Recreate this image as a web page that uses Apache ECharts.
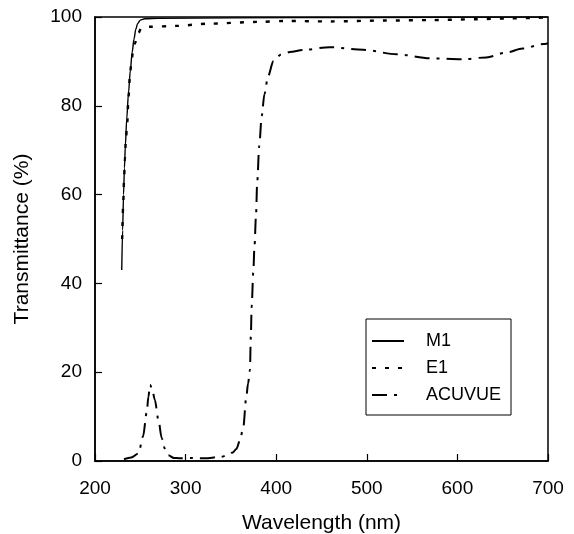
<!DOCTYPE html>
<html>
<head>
<meta charset="utf-8">
<script src="https://cdn.jsdelivr.net/npm/echarts@6/dist/echarts.min.js"></script>
<style>
  html, body { margin: 0; padding: 0; background: #fff; }
  #chart { width: 574px; height: 534px; }
</style>
</head>
<body>
<div id="chart"></div>
<script>
// transmittance spectra
const seriesNames = ['M1', 'E1', 'ACUVUE'];

const m1Wavelength = [229.5, 230.5, 231.5, 232.5, 233.5, 235, 237, 239, 241, 243, 245, 247, 250, 255, 270, 350, 500, 700];
const m1Transmittance = [43, 52, 60, 66, 71, 77, 83, 88, 92, 95, 97.2, 98.5, 99.3, 99.6, 99.7, 99.8, 99.9, 100];

const e1Wavelength = [230, 231, 232, 233, 234, 235.5, 237, 238.5, 240, 242, 244, 246, 248, 251, 260, 290, 325, 380, 410, 460, 520, 570, 620, 660, 700];
const e1Transmittance = [50, 57, 63, 68, 72, 76, 82, 86.5, 89.5, 92.3, 94, 95.2, 96.4, 97.5, 97.8, 98, 98.5, 98.9, 99.1, 99, 99.2, 99.3, 99.5, 99.7, 99.9];

const acuWavelength = [232, 240, 248, 253, 257, 259, 260.7, 263, 266, 270, 273.6, 277, 281, 287, 294, 308, 321, 338, 347, 352, 356, 360, 363.7, 367, 369, 371, 372, 372.9, 374.7, 376, 377.7, 379, 381.3, 384, 387, 391, 397, 405, 415, 430, 459, 496, 533, 570, 606, 632, 654, 672, 695, 700];
const acuTransmittance = [0.4, 0.8, 1.7, 5.5, 10.8, 14.5, 17.2, 16.3, 13.8, 9.3, 5.2, 2.8, 1.3, 0.7, 0.6, 0.7, 0.6, 0.9, 1.3, 1.9, 2.7, 4.6, 7.7, 14.5, 17.5, 20.5, 28, 34.8, 42.4, 48.3, 55.2, 62.7, 71, 77.7, 82.6, 86.7, 90.1, 91.5, 92.1, 92.6, 93.2, 92.6, 91.6, 90.7, 90.5, 90.9, 92, 92.9, 93.9, 94.1];

function zip(xs, ys) {
  return xs.map(function (x, i) { return [x, ys[i]]; });
}

const font = 'Liberation Sans, Arial, sans-serif';
const chart = echarts.init(document.getElementById('chart'), null, { renderer: 'canvas' });

const option = {
  backgroundColor: '#FFFFFF',
  animation: false,
  color: ['#000', '#000', '#000'],
  grid: {
    left: 95, right: 26, top: 17, bottom: 73,
    outerBoundsMode: 'none',
    containLabel: false,
    show: true, borderColor: '#000', borderWidth: 1.5, backgroundColor: 'transparent'
  },
  legend: {
    orient: 'vertical',
    left: 366, top: 319,
    padding: [13, 10, 11, 5],
    itemGap: 9,
    itemWidth: 32,
    itemHeight: 16,
    borderColor: '#000',
    borderWidth: 1,
    borderRadius: 0,
    backgroundColor: '#fff',
    itemStyle: { opacity: 0 },
    textStyle: { fontFamily: font, fontSize: 18, color: '#000', padding: [0, 0, 0, 17] },
    data: seriesNames
  },
  xAxis: {
    type: 'value',
    min: 200, max: 700, interval: 100,
    name: 'Wavelength (nm)',
    nameLocation: 'middle',
    nameGap: 52,
    nameTextStyle: { fontFamily: font, fontSize: 21, color: '#000' },
    axisLine: { lineStyle: { color: '#000', width: 1.5 } },
    axisTick: { inside: true, length: 7, lineStyle: { color: '#000', width: 1.2 } },
    axisLabel: { fontFamily: font, fontSize: 19, color: '#000', margin: 18 },
    splitLine: { show: false }
  },
  yAxis: {
    type: 'value',
    min: 0, max: 100, interval: 20,
    name: 'Transmittance (%)',
    nameLocation: 'middle',
    nameGap: 62,
    nameRotate: 90,
    nameTextStyle: { fontFamily: font, fontSize: 21, color: '#000' },
    axisLine: { show: true, lineStyle: { color: '#000', width: 1.5 } },
    axisTick: { show: true, inside: true, length: 7, lineStyle: { color: '#000', width: 1.2 } },
    axisLabel: { fontFamily: font, fontSize: 19, color: '#000', margin: 13 },
    splitLine: { show: false }
  },
  series: [
    {
      name: 'M1',
      type: 'line',
      data: zip(m1Wavelength, m1Transmittance),
      symbol: 'none',
      smooth: 0.3,
      smoothMonotone: 'x',
      lineStyle: { color: '#000', width: 1.4, type: 'solid' }
    },
    {
      name: 'E1',
      type: 'line',
      data: zip(e1Wavelength, e1Transmittance),
      symbol: 'none',
      smooth: 0.3,
      smoothMonotone: 'x',
      lineStyle: { color: '#000', width: 2.4, type: [4, 9] }
    },
    {
      name: 'ACUVUE',
      type: 'line',
      data: zip(acuWavelength, acuTransmittance),
      symbol: 'none',
      smooth: 0.3,
      smoothMonotone: 'x',
      lineStyle: { color: '#000', width: 2, type: [15, 7, 3, 7] }
    }
  ]
};

chart.setOption(option);
</script>
</body>
</html>
